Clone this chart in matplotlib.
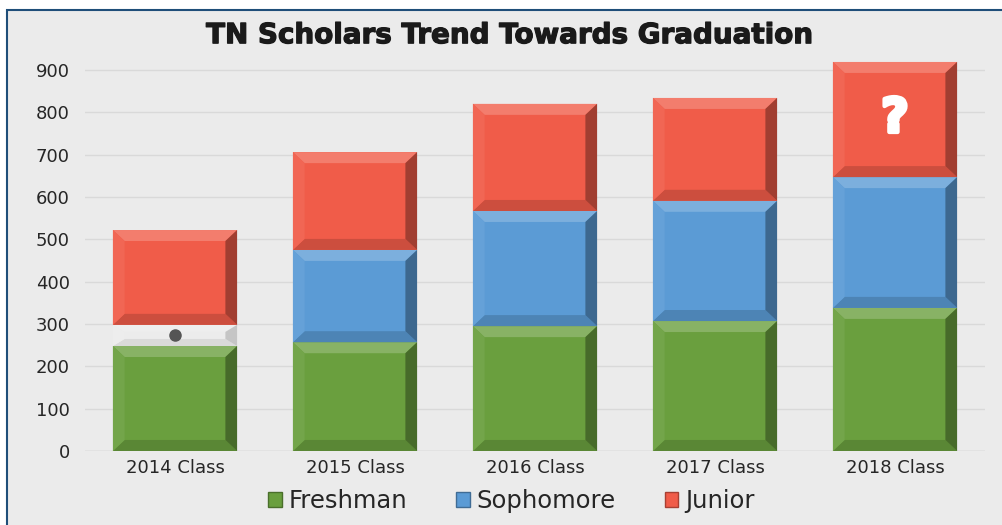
import numpy as np
import matplotlib.pyplot as plt
import matplotlib.patheffects as pe
from matplotlib.patches import Polygon, Rectangle, Patch
from matplotlib.colors import to_rgb

# Data
classes = ['2014 Class', '2015 Class', '2016 Class', '2017 Class', '2018 Class']
freshman = [248, 257, 295, 307, 338]
sophomore = [50, 218, 272, 284, 309]
junior = [224, 231, 253, 243, 272]

green = '#6A9F3E'
blue = '#5B9BD5'
red = '#F05C49'
gray = '#ECECEC'


def mix(c, other, t):
    c = np.array(to_rgb(c))
    o = np.array(to_rgb(other))
    return tuple(c * (1 - t) + o * t)


def bevel(ax, patch, color, bx=0.065, by=26, k=1.0):
    x0, y0 = patch.get_x(), patch.get_y()
    w, h = patch.get_width(), patch.get_height()
    x1, y1 = x0 + w, y0 + h
    by = min(by, h / 3)
    top = [(x0, y1), (x1, y1), (x1 - bx, y1 - by), (x0 + bx, y1 - by)]
    bot = [(x0, y0), (x1, y0), (x1 - bx, y0 + by), (x0 + bx, y0 + by)]
    left = [(x0, y0), (x0 + bx, y0 + by), (x0 + bx, y1 - by), (x0, y1)]
    right = [(x1, y0), (x1 - bx, y0 + by), (x1 - bx, y1 - by), (x1, y1)]
    for pts, c in [(top, mix(color, 'white', 0.2 * k)),
                   (bot, mix(color, 'black', 0.15 * k)),
                   (left, mix(color, 'white', 0.06 * k)),
                   (right, mix(color, 'black', 0.33 * k))]:
        ax.add_patch(Polygon(pts, closed=True, facecolor=c, edgecolor='none', zorder=3))


fig = plt.figure(figsize=(10.03, 5.25), dpi=100, facecolor='white')
fig.patches.append(Rectangle((7 / 1003, -0.05), 1.2, 1.05 - 10 / 525,
                             transform=fig.transFigure, facecolor='#EBEBEB',
                             edgecolor='#1F4E79', linewidth=1.5, zorder=-10))

ax = fig.add_axes([85 / 1003, 74 / 525, 900 / 1003, (451 - 57.3) / 525])
ax.set_facecolor('none')
ax.set_zorder(2)

x = np.arange(len(classes))
w = 0.69
b1 = ax.bar(x, freshman, w, color=green, zorder=2)
soph_colors = [gray] + [blue] * (len(classes) - 1)
b2 = ax.bar(x, sophomore, w, bottom=freshman, color=soph_colors, zorder=2)
bottom3 = np.array(freshman) + np.array(sophomore)
b3 = ax.bar(x, junior, w, bottom=bottom3, color=red, zorder=2)

for bars, cols in [(b1, [green] * 5), (b2, soph_colors), (b3, [red] * 5)]:
    for p, c in zip(bars, cols):
        bevel(ax, p, c, k=0.5 if c == gray else 1.0)

# marker in the gray 2014 segment
ax.plot(x[0], freshman[0] + sophomore[0] / 2, marker='o', markersize=8,
        color='#555555', zorder=4)

# question mark on 2018 junior
ax.text(x[-1], bottom3[-1] + junior[-1] / 2, '?', color='white', fontsize=34,
        fontweight='bold', family='DejaVu Sans', ha='center', va='center', zorder=5,
        path_effects=[pe.withStroke(linewidth=3, foreground='white')])

ax.set_xlim(-0.5, len(classes) - 0.5)
ax.set_ylim(0, 930)
ax.set_yticks(range(0, 901, 100))
ax.set_xticks(x)
ax.set_xticklabels(classes)
ax.grid(axis='y', color='#D9D9D9', linewidth=1, zorder=0)
ax.set_axisbelow(True)
for s in ax.spines.values():
    s.set_visible(False)
ax.axhline(0, color='#D0D0D0', linewidth=1, zorder=1)
ax.tick_params(length=0, labelsize=13, colors='#262626')
ax.tick_params(axis='x', pad=6)
ax.tick_params(axis='y', pad=11)

fig.text(0.508, 0.933, 'TN Scholars Trend Towards Graduation', ha='center',
         va='center', fontsize=20, fontweight='bold', family='DejaVu Sans',
         color='#1A1A1A',
         path_effects=[pe.withStroke(linewidth=0.9, foreground='#1A1A1A')])

handles = [Patch(facecolor=green, edgecolor=mix(green, 'black', 0.3)),
           Patch(facecolor=blue, edgecolor=mix(blue, 'black', 0.3)),
           Patch(facecolor=red, edgecolor=mix(red, 'black', 0.3))]
leg = fig.legend(handles, ['Freshman', 'Sophomore', 'Junior'], loc='center',
                 bbox_to_anchor=(0.51, 0.045), ncol=3, frameon=False,
                 handlelength=0.55, handleheight=0.55, handletextpad=0.3,
                 columnspacing=2.0, prop={'size': 17.5})
for t in leg.get_texts():
    t.set_color('#262626')

fig.savefig('out.png', dpi=100, facecolor=fig.get_facecolor())
